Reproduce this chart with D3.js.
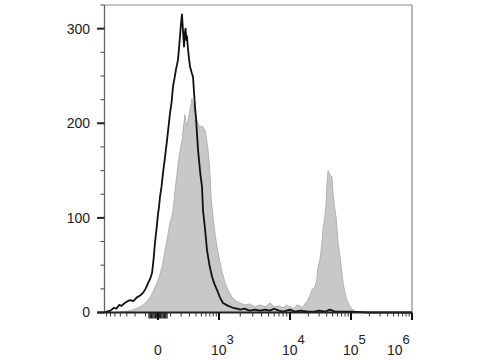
<!DOCTYPE html>
<html><head><meta charset="utf-8">
<script src="https://cdn.jsdelivr.net/npm/d3@7/dist/d3.min.js"></script>
<style>body{margin:0;background:#fff}svg{display:block}text{font-family:"Liberation Sans",Arial,sans-serif;fill:#222}</style>
</head><body><svg id="c" width="480" height="360"></svg>
<script>
// Control (unstained) histogram: intensity, count
const controlX = [-760,-700,-600,-520,-470,-420,-380,-330,-290,-256,-220,-180,-148,-120,-95,-78,-60,-46,-35,-23,-10,0,8,15,27,38,55,70,82,95,108,121,135,148,158,167,178,188,198,209,220,232,242,250,260,268,281,295,308,330,352,368,383,400,417,435,453,480,512,534,580,626,690,762,840,925,1030,1140,1350,1580,1800,2000,2300,2700,3200,3800,4500,5200,6000,7000,8000,10000,12000,15000,20000,25000,30000,38000,45000,55000,70000,100000,200000,1000000];
const controlY = [0,1,2,5,4,8,7,10,12,13,12,16,18,21,26,31,36,42,55,74,90,104,112,122,133,147,165,182,196,211,222,239,248,257,262,267,280,292,305,315,298,281,296,300,288,292,278,268,260,254,249,232,218,205,189,172,161,146,133,108,88,66,50,38,30,24,16,10,7,5,4,3,4,2,3,2,3,2,4,2,1,3,1,2,1,1,2,1,3,1,1,1,0,0];
// Stained histogram: intensity, count
const stainX = [-760,-500,-350,-250,-190,-148,-120,-100,-80,-62,-45,-30,-8,10,31,50,70,85,95,108,121,132,140,150,158,170,180,195,209,225,243,255,268,285,308,322,336,352,365,380,400,417,440,473,520,578,610,652,704,740,793,870,963,1090,1225,1380,1535,1750,1990,2300,2750,3200,3800,4500,5250,6000,7000,8000,9000,10000,11500,13000,14600,16000,17500,19700,23000,25700,27500,28800,31100,33500,34800,36100,38900,40500,42000,43500,45000,48900,50700,53500,56800,61300,66100,70000,74000,80000,86000,96400,116000,150000,1000000];
const stainY = [0,0,1,2,4,6,8,10,13,16,20,24,31,38,48,62,77,88,95,100,108,120,130,140,147,158,165,175,182,195,209,200,196,205,214,220,226,221,212,215,208,203,199,196,197,193,185,172,147,119,101,80,63,45,31,22,16,12,10,8,9,6,8,6,10,6,7,5,8,6,4,8,7,5,9,13,24,27,35,48,56,74,88,95,112,137,150,148,146,143,126,112,101,74,59,45,31,20,13,6,1,0,0];
// Axis ticks
const yMajor = [0,100,200,300];
const yMinor = [25,50,75,125,150,175,225,250,275,325];
const xMajor = [0,1000,10000,100000,1000000];
const xMajorLabels = [["0",""],["10","3"],["10","4"],["10","5"],["10","6"]];
const xZero = [-70,-60,-50,-40,-30,-20,-10,10,20,30,40,50,60,70];
const xMinor = [-700,-600,-500,-400,-300,-200,-100,100,200,300,400,500,600,700,800,900,
  2000,3000,4000,5000,6000,7000,8000,9000,20000,30000,40000,50000,60000,70000,80000,90000,
  200000,300000,400000,500000,600000,700000,800000,900000];

const svg = d3.select("#c");
const L = 104.5, R = 412, T0 = 5, B = 312.5;
const tr = v => Math.asinh(v / 202) / Math.LN10;
const x = d3.scaleLinear().domain([tr(-760), tr(0), tr(1000), tr(10000), tr(1000000)]).range([L, 158, 219, 290, R]);
const y = d3.scaleLinear().domain([0, 325]).range([B, T0]);
const X = v => x(tr(v));

// stained filled area
const stain = stainX.map((v,i)=>[v, stainY[i]]);
svg.append("path").datum(stain)
  .attr("d", d3.area().x(d=>X(d[0])).y0(y(0)).y1(d=>y(d[1])))
  .attr("fill","#c8c8c8").attr("stroke","#b2b2b2").attr("stroke-width",1);

// control line
const ctrl = controlX.map((v,i)=>[v, controlY[i]]);
svg.append("path").datum(ctrl)
  .attr("d", d3.line().x(d=>X(d[0])).y(d=>y(d[1])))
  .attr("fill","none").attr("stroke","#111").attr("stroke-width",1.8).attr("stroke-linejoin","round");

// frame top/right
svg.append("line").attr("x1",L).attr("x2",R).attr("y1",T0).attr("y2",T0).attr("stroke","#888").attr("stroke-width",1.2);
svg.append("line").attr("x1",R).attr("x2",R).attr("y1",T0).attr("y2",B).attr("stroke","#888").attr("stroke-width",1.2);

// y axis
svg.append("line").attr("x1",L).attr("x2",L).attr("y1",T0).attr("y2",B).attr("stroke","#666").attr("stroke-width",1.3);
yMinor.filter(v=>v<=325).forEach(v=>{
  svg.append("line").attr("x1",L-4).attr("x2",L).attr("y1",y(v)).attr("y2",y(v)).attr("stroke","#444").attr("stroke-width",1);
});
yMajor.forEach(v=>{
  svg.append("line").attr("x1",L-7.5).attr("x2",L).attr("y1",y(v)).attr("y2",y(v)).attr("stroke","#222").attr("stroke-width",2);
  svg.append("text").attr("x",90).attr("y",y(v)).attr("dy","0.35em").attr("text-anchor","end").attr("font-size",14).text(v);
});

// x axis
svg.append("line").attr("x1",L-7).attr("x2",R).attr("y1",B).attr("y2",B).attr("stroke","#222").attr("stroke-width",1.8);
xMinor.forEach(v=>{
  svg.append("line").attr("x1",X(v)).attr("x2",X(v)).attr("y1",B).attr("y2",B+4).attr("stroke","#333").attr("stroke-width",1);
});
xZero.forEach(v=>{
  svg.append("line").attr("x1",X(v)).attr("x2",X(v)).attr("y1",B).attr("y2",B+6).attr("stroke","#222").attr("stroke-width",1.3);
});
xMajor.forEach((v,i)=>{
  svg.append("line").attr("x1",X(v)).attr("x2",X(v)).attr("y1",B).attr("y2",B+7.5).attr("stroke","#111").attr("stroke-width",2);
  const lab = xMajorLabels[i];
  const off = (v===1000000) ? -17 : 0;
  const t = svg.append("text").attr("x",X(v)+off).attr("y",355).attr("font-size",14);
  if (lab[1]==="") {
    t.attr("text-anchor","middle").text(lab[0]);
  } else {
    t.attr("text-anchor","start").attr("x",X(v)+off-8);
    t.append("tspan").text(lab[0]);
    t.append("tspan").attr("dy",-11).attr("font-size",13).text(lab[1]);
  }
});
</script></body></html>
